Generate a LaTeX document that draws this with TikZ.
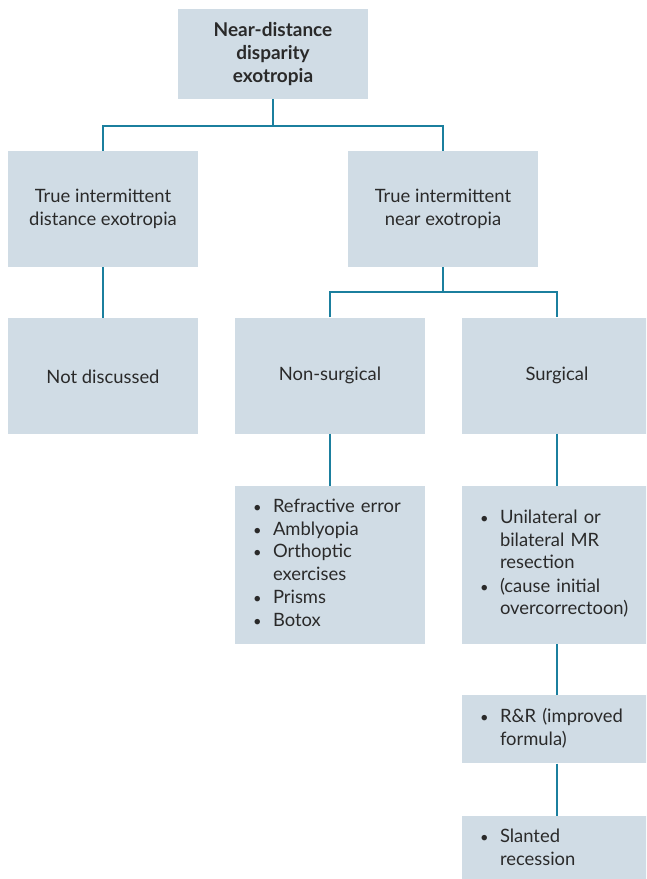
\documentclass[tikz,border=0pt]{standalone}
\usepackage{fontspec}
\setmainfont{Lato}
\usepackage{tikz}
\usetikzlibrary{positioning}

\definecolor{boxfill}{HTML}{D0DCE5}
\definecolor{linkblue}{HTML}{1B7F9E}
\definecolor{inkgrey}{HTML}{2A2A2A}

\newcommand{\bul}[1]{\makebox[20pt][l]{\scalebox{0.8}{\textbullet}}\begin{tabular}[t]{@{}l@{}}#1\end{tabular}}

\tikzset{
	box/.style={fill=boxfill, text=inkgrey, inner sep=0pt, minimum width=190pt,
		minimum height=116pt, align=center, font=\fontsize{18.4}{22.5}\selectfont},
	listbox/.style={box, align=left, text width=154pt, inner xsep=18pt},
	conn/.style={draw=linkblue, line width=2.8pt},
}

\begin{document}
\begin{tikzpicture}[x=1pt, y=-1pt, node distance=52pt]
	\useasboundingbox (0,0) rectangle (646,879);
	\clip (0,0) rectangle (646,879);
	
	\node[box, minimum height=90pt, font=\fontsize{19}{23}\selectfont\bfseries] (top) at (273,54) {Near-distance\\disparity\\exotropia};
	
	\node[box] (dist) at (103,209) {True intermittent\\distance exotropia};
	\node[box] (near) at (443,209) {True intermittent\\near exotropia};
	\node[box, below=51pt of dist] (notd) {Not discussed};
	
	\node[box] (nons) at (330,375.5) {Non-surgical};
	\node[box] (surg) at (557,375.5) {Surgical};
	
	\node[listbox, minimum height=158pt, below=of nons] (nonsl) {\bul{Refractive error}\\\bul{Amblyopia}\\\bul{Orthoptic\\exercises}\\\bul{Prisms}\\\bul{Botox}};
	\node[listbox, minimum height=158pt, below=of surg] (surg1) {\bul{Unilateral or\\bilateral MR\\resection}\\\bul{(cause initial\\overcorrectoon)}};
	\node[listbox, minimum height=68pt, below=51pt of surg1] (surg2) {\bul{R\&R (improved\\formula)}};
	\node[listbox, minimum height=68pt, below=of surg2] (surg3) {\bul{Slanted\\recession}};
	
	\coordinate (j1) at (273,126);
	\coordinate (j2) at (443,292);
	
	\draw[conn] (top) -- (j1);
	\draw[conn] (dist) |- (j1) -| (near);
	\draw[conn] (dist) -- (notd);
	\draw[conn] (near) -- (j2);
	\draw[conn] (nons) |- (j2) -| (surg);
	\draw[conn] (nons) -- (nonsl);
	\draw[conn] (surg) -- (surg1);
	\draw[conn] (surg1) -- (surg2);
	\draw[conn] (surg2) -- (surg3);
\end{tikzpicture}
\end{document}
